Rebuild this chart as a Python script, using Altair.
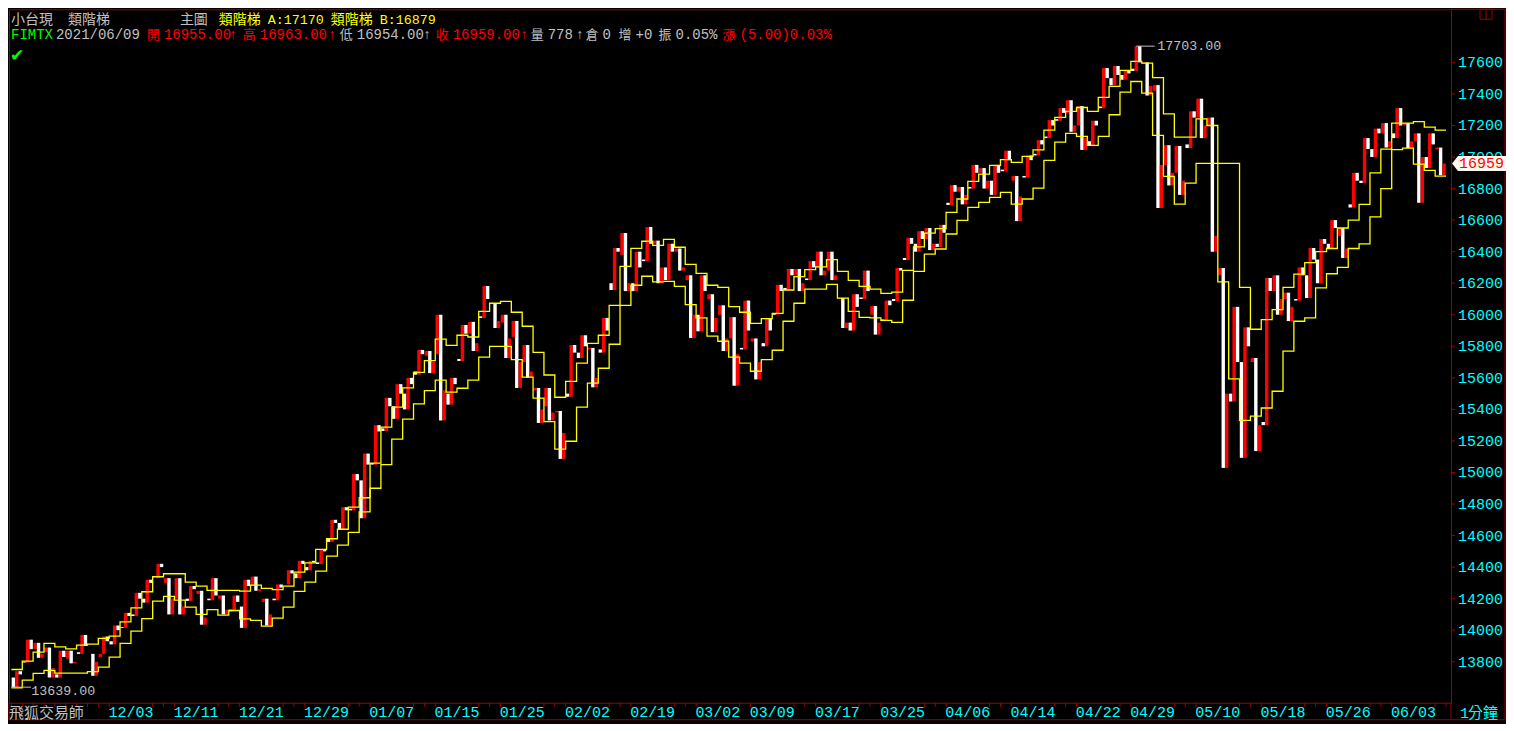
import altair as alt
import pandas as pd
from itertools import groupby

# ---------------- data ----------------
date_labels = ["12/03", "12/11", "12/21", "12/29", "01/07", "01/15", "01/25", "02/02",
               "02/19", "03/02", "03/09", "03/17", "03/25", "04/06", "04/14", "04/22",
               "04/29", "05/10", "05/18", "05/26", "06/03"]
date_pos = [11, 17, 23, 29, 35, 41, 47, 53, 59, 65, 70, 76, 82, 88, 94, 100, 105, 111, 117, 123, 129]
price_ticks = [13800, 14000, 14200, 14400, 14600, 14800, 15000, 15200, 15400, 15600,
               15800, 16000, 16200, 16400, 16600, 16800, 17000, 17200, 17400, 17600]

day_open = [13700, 13800, 13880, 13860, 13720, 13820, 13860, 13850, 13830, 13930,
            14020, 14100, 14200, 14330, 14300, 14200, 14200, 14230, 14200, 14200,
            14130, 14150, 14280, 14180, 14200, 14290, 14360, 14400, 14430, 14580,
            14680, 14770, 14950, 15060, 15280, 15420, 15500, 15640, 15740, 15750,
            15500, 15720, 15880, 15990, 16070, 15950, 15860, 15700, 15520, 15420,
            15380, 15500, 15760, 15780, 15780, 16200, 16380, 16200, 16350, 16450,
            16300, 16400, 16220, 16000, 16100, 16000, 15850, 15790, 15830, 15820,
            16010, 16170, 16250, 16230, 16300, 16280, 16100, 15950, 16110, 16000,
            15970, 16100, 16360, 16450, 16480, 16450, 16710, 16780, 16810, 16900,
            16850, 16920, 16850, 16880, 17020, 17130, 17240, 17280, 17200, 17100,
            17320, 17500, 17520, 17560, 17590, 17420, 16950, 16900, 17080, 17250,
            17200, 16250, 15500, 15700, 15700, 15320, 16150, 16100, 16100, 16250,
            16350, 16450, 16500, 16700, 16850, 17050, 17150, 17150, 17200, 17100,
            17000, 17050]
day_high = [13740, 13940, 13920, 13890, 13870, 13870, 13970, 13850, 13960, 14030,
            14110, 14237, 14320, 14421, 14330, 14330, 14280, 14250, 14330, 14220,
            14220, 14320, 14340, 14200, 14290, 14380, 14440, 14440, 14510, 14700,
            14780, 14990, 15120, 15300, 15473, 15560, 15600, 15777, 15770, 16000,
            15600, 15935, 15955, 16182, 16075, 16000, 15960, 15808, 15536, 15536,
            15390, 15808, 15870, 15790, 15980, 16423, 16518, 16400, 16556, 16470,
            16450, 16420, 16250, 16250, 16130, 16060, 15985, 16090, 15850, 15975,
            16190, 16290, 16290, 16340, 16400, 16400, 16106, 16130, 16280, 16055,
            16090, 16296, 16487, 16530, 16550, 16570, 16822, 16810, 16950, 16930,
            16950, 17040, 16880, 17010, 17107, 17234, 17310, 17360, 17323, 17230,
            17564, 17577, 17550, 17703, 17600, 17456, 17075, 17070, 17290, 17370,
            17250, 16296, 16050, 15920, 15726, 16233, 16250, 16140, 16300, 16423,
            16480, 16600, 16550, 16900, 17120, 17180, 17215, 17310, 17215, 17150,
            17150, 17060]
day_low = [13639, 13795, 13825, 13700, 13700, 13790, 13850, 13711, 13850, 13910,
           14015, 14090, 14175, 14330, 14100, 14100, 14186, 14035, 14190, 14100,
           14120, 14015, 14250, 14030, 14190, 14290, 14330, 14380, 14420, 14560,
           14640, 14760, 14710, 15050, 15263, 15340, 15400, 15620, 15630, 15330,
           15430, 15707, 15770, 15980, 15916, 15726, 15536, 15600, 15314, 15330,
           15086, 15480, 15726, 15540, 15760, 16157, 16150, 16150, 16340, 16200,
           16220, 16280, 15853, 15895, 15890, 15770, 15550, 15780, 15590, 15800,
           16000, 16157, 16150, 16220, 16250, 16220, 15916, 15900, 16100, 15874,
           15960, 16087, 16347, 16400, 16410, 16430, 16696, 16700, 16800, 16800,
           16760, 16910, 16594, 16870, 17010, 17120, 17230, 17160, 17045, 17070,
           17310, 17455, 17490, 17545, 17390, 16677, 16820, 16760, 17057, 17120,
           16400, 15029, 15450, 15093, 15136, 15300, 16000, 15960, 16090, 16106,
           16200, 16423, 16360, 16680, 16835, 17000, 17060, 17120, 17057, 16710,
           16930, 16885]
day_close = [13720, 13880, 13850, 13760, 13830, 13800, 13900, 13800, 13930, 14000,
             14090, 14200, 14300, 14400, 14200, 14150, 14260, 14080, 14220, 14130,
             14180, 14280, 14260, 14100, 14270, 14360, 14420, 14430, 14500, 14680,
             14760, 14950, 15050, 15260, 15420, 15500, 15560, 15750, 15700, 15520,
             15560, 15880, 15820, 16100, 15960, 15850, 15700, 15640, 15400, 15380,
             15250, 15760, 15800, 15600, 15900, 16400, 16200, 16300, 16450, 16300,
             16400, 16300, 16000, 16150, 15980, 15850, 15750, 15900, 15700, 15900,
             16150, 16250, 16200, 16300, 16280, 16250, 15950, 16050, 16150, 15950,
             16060, 16280, 16450, 16480, 16450, 16520, 16780, 16760, 16900, 16850,
             16900, 16980, 16750, 16980, 17080, 17200, 17280, 17200, 17120, 17200,
             17500, 17520, 17530, 17600, 17450, 16950, 16900, 16850, 17250, 17200,
             16500, 15500, 15700, 15800, 15300, 16150, 16100, 16050, 16250, 16350,
             16450, 16550, 16420, 16850, 17050, 17150, 17100, 17200, 17100, 17000,
             17080, 16959]

ladder_a = [13635, 13684, 13726, 13745, 13728, 13728, 13728, 13737, 13766, 13830,
            13916, 13994, 14074, 14184, 14214, 14191, 14147, 14100, 14131, 14096,
            14125, 14072, 14062, 14026, 14077, 14147, 14246, 14305, 14375, 14470,
            14540, 14620, 14750, 14900, 15050, 15211, 15338, 15435, 15519, 15585,
            15509, 15534, 15585, 15731, 15800, 15800, 15715, 15604, 15471, 15323,
            15148, 15198, 15414, 15566, 15661, 15813, 16060, 16187, 16244, 16208,
            16212, 16180, 16064, 15980, 15864, 15832, 15731, 15693, 15642, 15715,
            15775, 15959, 16073, 16163, 16163, 16193, 16106, 16022, 15984, 15980,
            15965, 15952, 16092, 16275, 16385, 16417, 16512, 16599, 16681, 16713,
            16744, 16776, 16702, 16734, 16803, 16979, 17095, 17150, 17131, 17074,
            17131, 17268, 17412, 17479, 17405, 17137, 16877, 16702, 16835, 16960,
            16960, 16960, 16960, 16174, 15908, 15969, 16032, 16174, 16258, 16330,
            16400, 16420, 16550, 16600, 16700, 16900, 17050, 17215, 17215, 17225,
            17190, 17170]
ladder_b = [13751, 13804, 13861, 13916, 13895, 13882, 13906, 13912, 13948, 13963,
            14053, 14142, 14244, 14339, 14358, 14358, 14305, 14280, 14252, 14252,
            14252, 14248, 14286, 14265, 14258, 14280, 14368, 14427, 14512, 14580,
            14640, 14780, 14840, 15060, 15287, 15414, 15536, 15635, 15709, 15846,
            15806, 15870, 15859, 16022, 16073, 16085, 16016, 15927, 15762, 15618,
            15477, 15578, 15694, 15819, 15870, 16060, 16307, 16421, 16466, 16440,
            16478, 16428, 16320, 16263, 16187, 16174, 16051, 16016, 15946, 15975,
            16009, 16157, 16242, 16286, 16303, 16349, 16275, 16218, 16180, 16163,
            16136, 16144, 16282, 16430, 16518, 16546, 16649, 16734, 16846, 16892,
            16947, 16983, 16966, 17004, 17046, 17171, 17251, 17289, 17314, 17289,
            17378, 17448, 17549, 17606, 17595, 17504, 17274, 17126, 17126, 17242,
            17200, 16208, 15593, 15331, 15357, 15409, 15515, 15769, 15959, 15980,
            16170, 16260, 16300, 16420, 16450, 16620, 16800, 17047, 17057, 16955,
            16915, 16879]

quote_date = "2021/06/09"
quote_open, quote_high, quote_low, quote_close = 16955.00, 16963.00, 16954.00, 16959.00
quote_volume = 778
quote_change, quote_change_pct, quote_amp_pct = 5.00, 0.03, 0.05

# ---------------- layout / style ----------------
W, H = 1443, 694
PANEL = 55
RED_FRAME = "#a00000"
CYAN = "#00ffff"
GRAY = "#c0c0c0"
YELLOW = "#ffff00"
RED = "#ff0000"
MONO = "'Liberation Mono', 'DejaVu Sans Mono'"
NARROW = "'Liberation Sans Narrow', 'Liberation Mono'"
CJK = "'Noto Sans CJK TC', 'Noto Sans CJK SC'"

xs = alt.Scale(domain=[-0.219, 132.46], nice=False, zero=False)
ys = alt.Scale(domain=[13540, 17937], nice=False, zero=False)

# candle path segments (open -> extreme -> extreme -> close) per day
rows = []
for k in range(len(day_open)):
    o, h, l, c = day_open[k], day_high[k], day_low[k], day_close[k]
    path = [o, l, h, c] if c >= o else [o, h, l, c]
    for j, off in enumerate([0.18, 0.5, 0.82]):
        a, b = path[j], path[j + 1]
        rows.append({"x": k + off, "y0": a, "y1": b,
                     "col": RED if b >= a else "#ffffff"})
candles_df = pd.DataFrame(rows)

candles = alt.Chart(candles_df).mark_rule(strokeWidth=3.4).encode(
    x=alt.X("x:Q", scale=xs, axis=None),
    y=alt.Y("y0:Q", scale=ys, axis=None),
    y2="y1:Q",
    color=alt.Color("col:N", scale=None),
)

# ladder step lines
lad_rows = []
for name, arr in (("A", ladder_a), ("B", ladder_b)):
    for k, v in enumerate(arr):
        lad_rows.append({"x": k, "v": v, "s": name})
    lad_rows.append({"x": len(arr), "v": arr[-1], "s": name})
ladder_df = pd.DataFrame(lad_rows)
ladders = alt.Chart(ladder_df).mark_line(interpolate="step-after", strokeWidth=1.3,
                                          color=YELLOW).encode(
    x=alt.X("x:Q", scale=xs, axis=None),
    y=alt.Y("v:Q", scale=ys, axis=None),
    detail="s:N",
)

# time axis: day ticks + date labels
tick_days = [k for k in range(0, 133) if min(abs(k - p) for p in date_pos) >= 2]
day_ticks = alt.Chart(pd.DataFrame({"x": tick_days})).mark_rule(
    color=RED_FRAME, strokeWidth=1).encode(
    x=alt.X("x:Q", scale=xs, axis=None), y=alt.value(H), y2=alt.value(H + 4))
date_text = alt.Chart(pd.DataFrame({"x": date_pos, "t": date_labels})).mark_text(
    align="center", baseline="alphabetic", font=NARROW, fontSize=15, color=CYAN).encode(
    x=alt.X("x:Q", scale=xs, axis=None), y=alt.value(H + 14), text="t:N")

# price axis: ticks + labels
price_tick_marks = alt.Chart(pd.DataFrame({"v": price_ticks})).mark_rule(
    color=RED_FRAME, strokeWidth=1).encode(
    y=alt.Y("v:Q", scale=ys, axis=None), x=alt.value(W), x2=alt.value(W + 4))
price_text = alt.Chart(pd.DataFrame({"v": price_ticks})).mark_text(
    align="right", baseline="middle", font=NARROW, fontSize=15, color=CYAN).encode(
    y=alt.Y("v:Q", scale=ys, axis=None), x=alt.value(W + 52), text="v:N")

# frame pieces outside the plot area
def hline(x1, x2, y):
    return alt.Chart(pd.DataFrame({"a": [0]})).mark_rule(
        color=RED_FRAME, strokeWidth=1).encode(
        x=alt.value(x1), x2=alt.value(x2), y=alt.value(y))

def vline(x, y1, y2):
    return alt.Chart(pd.DataFrame({"a": [0]})).mark_rule(
        color=RED_FRAME, strokeWidth=1).encode(
        x=alt.value(x), y=alt.value(y1), y2=alt.value(y2))

frame = [
    hline(0, W + PANEL - 1, H + 17),
    hline(W, W + PANEL - 1, 0),
    vline(W, H, H + 17),
    vline(W + PANEL - 1, 0, H + 17),
    vline(0, H, H + 17),
]
icon = alt.Chart(pd.DataFrame({"a": [0]})).mark_rect(
    fill=None, stroke=RED_FRAME, strokeWidth=1).encode(
    x=alt.value(W + 29), x2=alt.value(W + 41), y=alt.value(0), y2=alt.value(10))
icon_bar = vline(W + 35, 0, 10)

def txt(s, px, py, color, size, font, align="left", baseline="alphabetic"):
    return alt.Chart(pd.DataFrame({"t": [s]})).mark_text(
        align=align, baseline=baseline, font=font, fontSize=size, color=color).encode(
        x=alt.value(px), y=alt.value(py), text="t:N")

def is_cjk(ch):
    return ord(ch) >= 0x2E80

def text_line(segments, py, latin_size=13.33, cjk_size=14):
    out = []
    for s, color, x0 in segments:
        x = x0
        for cjk, grp in groupby(s, key=is_cjk):
            chunk = "".join(grp)
            if cjk:
                out.append(txt(chunk, x, py, color, cjk_size, CJK))
                x += 16 * len(chunk) + 1
            else:
                out.append(txt(chunk, x, py, color, latin_size, MONO))
                x += 8 * len(chunk)
    return out

header = []
header += text_line([
    ("小台現 類階梯", GRAY, 2),
    ("主圖", GRAY, 171),
    ("類階梯A:%d" % ladder_a[-1], YELLOW, 210),
    ("類階梯B:%d" % ladder_b[-1], YELLOW, 322),
], 15)
header += text_line([
    ("FIMTX", "#00ff00", 2),
    (quote_date, GRAY, 47),
    ("開%.2f" % quote_open, RED, 138),
    ("↑", RED, 220),
    ("高%.2f" % quote_high, RED, 234),
    ("↑", RED, 319),
    ("低%.2f" % quote_low, GRAY, 331),
    ("↑", GRAY, 414),
    ("收%.2f" % quote_close, RED, 427),
    ("↑", RED, 511),
    ("量%d" % quote_volume, GRAY, 522),
    ("↑", GRAY, 567),
    ("倉0", GRAY, 577),
    ("增+0", GRAY, 610),
    ("振%.2f%%" % quote_amp_pct, GRAY, 650),
    ("漲(%.2f)%.2f%%" % (quote_change, quote_change_pct), RED, 714),
], 30, latin_size=14, cjk_size=13)
header.append(txt("✔", 1, 52, "#00ff00", 17, "'DejaVu Sans'"))
header += text_line([("飛狐交易師", GRAY, 0)], H + 15, cjk_size=15)
header += text_line([("1分鐘", CYAN, W + 9)], H + 15, latin_size=15, cjk_size=15)

# highest / lowest annotations
kmax = day_high.index(max(day_high))
kmin = day_low.index(min(day_low))
ext_df = pd.DataFrame({
    "x": [kmax + 0.5, kmin + 0.0],
    "x2": [kmax + 2.2, kmin + 1.8],
    "v": [day_high[kmax], day_low[kmin]],
    "label": ["%.2f" % day_high[kmax], "%.2f" % day_low[kmin]],
})
ext_rule = alt.Chart(ext_df).mark_rule(color=GRAY, strokeWidth=1).encode(
    x=alt.X("x:Q", scale=xs, axis=None), x2="x2:Q",
    y=alt.Y("v:Q", scale=ys, axis=None))
ext_hi = alt.Chart(ext_df.iloc[[0]]).mark_text(
    align="left", baseline="middle", dx=21, font=MONO, fontSize=13.33, color=GRAY).encode(
    x=alt.X("x:Q", scale=xs, axis=None), y=alt.Y("v:Q", scale=ys, axis=None),
    text="label:N")
ext_lo = alt.Chart(ext_df.iloc[[1]]).mark_text(
    align="left", baseline="middle", dx=20, dy=4, font=MONO, fontSize=13.33,
    color=GRAY).encode(
    x=alt.X("x:Q", scale=xs, axis=None), y=alt.Y("v:Q", scale=ys, axis=None),
    text="label:N")

# current price tag on the price axis
last_df = pd.DataFrame({"v": [day_close[-1]], "t": ["%d" % day_close[-1]]})
tag = alt.Chart(last_df).mark_point(
    shape="M -1 0 L -0.78 -0.28 L 1 -0.28 L 1 0.28 L -0.78 0.28 Z",
    filled=True, size=2916, color="#fffaf0", opacity=1, strokeWidth=0).encode(
    x=alt.value(W + 28), y=alt.Y("v:Q", scale=ys, axis=None))
tag_text = alt.Chart(last_df).mark_text(
    align="right", baseline="middle", font=NARROW, fontSize=15, color=RED).encode(
    x=alt.value(W + 53), y=alt.Y("v:Q", scale=ys, axis=None), text="t:N")

chart = alt.layer(
    candles, ladders, day_ticks, date_text, price_tick_marks, price_text,
    *frame, icon, icon_bar, *header,
    ext_rule, ext_hi, ext_lo, tag, tag_text,
).properties(
    width=W, height=H,
    autosize=alt.AutoSizeParams(type="none"),
    padding={"left": 1, "top": 1, "right": PANEL, "bottom": 21},
    background="#000000",
).configure_view(stroke=RED_FRAME, strokeWidth=1)

chart.save("out.html", embed_options={"renderer": "svg", "actions": False})
